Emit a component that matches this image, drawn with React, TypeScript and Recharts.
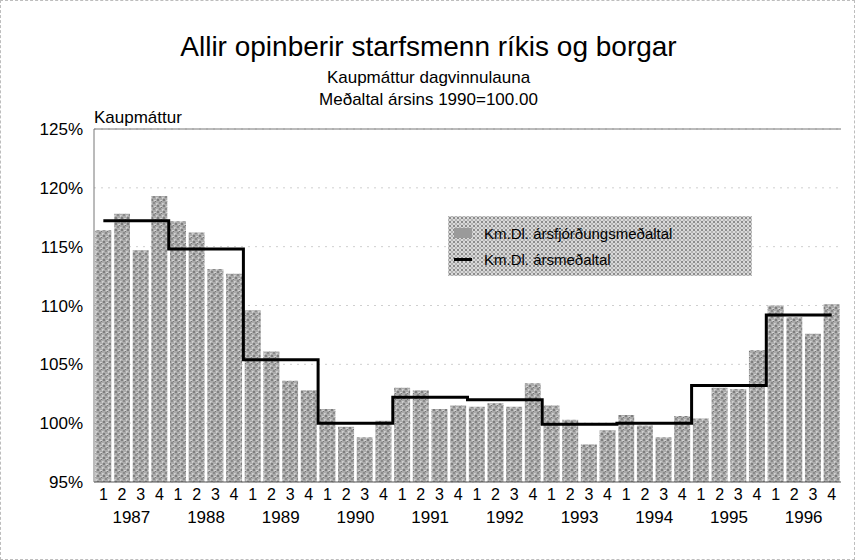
import React from 'react';
import { ComposedChart, Bar, Line, XAxis, YAxis, CartesianGrid, Legend, ReferenceLine } from 'recharts';

const years = ['1987', '1988', '1989', '1990', '1991', '1992', '1993', '1994', '1995', '1996'];
const quarters = ['1', '2', '3', '4'];
const quarterlyValues = [
  116.4, 117.8, 114.7, 119.3,
  117.15, 116.2, 113.1, 112.7,
  109.6, 106.1, 103.6, 102.8,
  101.2, 99.7, 98.8, 100.2,
  103.0, 102.8, 101.2, 101.5,
  101.4, 101.7, 101.4, 103.4,
  101.5, 100.3, 98.2, 99.4,
  100.7, 99.8, 98.8, 100.6,
  100.4, 103.0, 102.9, 106.2,
  110.0, 109.0, 107.6, 110.1,
];
const annualValues = [117.2, 114.8, 105.4, 100.0, 102.2, 102.0, 99.9, 100.0, 103.2, 109.2];
const yTicks = [95, 100, 105, 110, 115, 120, 125];

const data = years.flatMap((year, yi) =>
  quarters.map((q, qi) => ({
    key: `${year}-${q}`,
    q,
    year,
    quarterly: quarterlyValues[yi * 4 + qi],
    annual: annualValues[yi],
  }))
);

const FONT = '"Liberation Sans", Arial, Helvetica, sans-serif';

const stipple =
  'radial-gradient(circle, #8c8c8c 0.9px, transparent 1.2px) 0 0/4px 4px, ' +
  'radial-gradient(circle, #b4b4b4 0.9px, transparent 1.2px) 2px 2px/4px 4px, #d9d9d9';

const LegendBox = () => (
  <div
    style={{
      width: 304,
      height: 60,
      background: stipple,
      fontFamily: FONT,
      fontSize: 15,
      color: '#000',
      boxSizing: 'border-box',
      paddingTop: 7,
      textAlign: 'left',
    }}
  >
    <div style={{ display: 'flex', alignItems: 'center', height: 20 }}>
      <div style={{ width: 18, height: 10, marginLeft: 6, background: '#9a9a9a' }} />
      <span style={{ marginLeft: 12 }}>Km.Dl. ársfjórðungsmeðaltal</span>
    </div>
    <div style={{ display: 'flex', alignItems: 'center', height: 20, marginTop: 6 }}>
      <div style={{ width: 18, height: 3, marginLeft: 6, background: '#000' }} />
      <span style={{ marginLeft: 12 }}>Km.Dl. ársmeðaltal</span>
    </div>
  </div>
);

export default function App() {
  return (
    <div
      style={{
        position: 'absolute',
        left: 0,
        top: 0,
        width: 855,
        height: 560,
        background: '#fff',
        fontFamily: FONT,
        boxSizing: 'border-box',
        border: '1px dashed #bdbdbd',
      }}
    >
      <div style={{ position: 'absolute', left: 0, width: 855, top: 30, textAlign: 'center', fontSize: 28, color: '#000' }}>
        Allir opinberir starfsmenn ríkis og borgar
      </div>
      <div style={{ position: 'absolute', left: 0, width: 855, top: 67, textAlign: 'center', fontSize: 17, color: '#000' }}>
        Kaupmáttur dagvinnulauna
      </div>
      <div style={{ position: 'absolute', left: 0, width: 855, top: 89, textAlign: 'center', fontSize: 17, color: '#000' }}>
        Meðaltal ársins 1990=100.00
      </div>
      <div style={{ position: 'absolute', left: 93, top: 107, fontSize: 17, color: '#000' }}>Kaupmáttur</div>
      <div style={{ position: 'absolute', left: 0, top: 0 }}>
        <ComposedChart
          width={855}
          height={560}
          data={data}
          margin={{ top: 128, right: 15, bottom: 20, left: 13 }}
          barCategoryGap="7%"
        >
          <defs>
            <pattern id="stip" width="6" height="6" patternUnits="userSpaceOnUse">
              <rect width="6" height="6" fill="#ababab" />
              <rect x="0" y="0" width="2" height="2" fill="#7e7e7e" />
              <rect x="3" y="1" width="2" height="1" fill="#d2d2d2" />
              <rect x="2" y="3" width="2" height="2" fill="#8a8a8a" />
              <rect x="5" y="4" width="1" height="2" fill="#cfcfcf" />
              <rect x="0" y="4" width="1" height="1" fill="#c8c8c8" />
              <rect x="4" y="2" width="1" height="1" fill="#777" />
            </pattern>
          </defs>
          <CartesianGrid vertical={false} stroke="#cfcfcf" strokeDasharray="2 5" />
          <XAxis
            dataKey="key"
            interval={0}
            height={29}
            tickLine={false}
            tickSize={0}
            tickMargin={7}
            axisLine={{ stroke: '#555' }}
            tickFormatter={(v: string) => v.split('-')[1]}
            tick={{ fill: '#000', fontSize: 16, fontFamily: FONT }}
          />
          <XAxis
            xAxisId="year"
            dataKey="year"
            allowDuplicatedCategory={false}
            interval={0}
            height={30}
            axisLine={false}
            tickLine={false}
            tickSize={0}
            tickMargin={0}
            tick={{ fill: '#000', fontSize: 17, fontFamily: FONT }}
          />
          <YAxis
            domain={[95, 125]}
            ticks={yTicks}
            width={80}
            interval={0}
            tickLine={false}
            tickSize={0}
            tickMargin={11}
            axisLine={{ stroke: '#777' }}
            tickFormatter={(v: number) => `${v}%`}
            tick={{ fill: '#000', fontSize: 17, fontFamily: FONT }}
          />
          <YAxis
            yAxisId="r"
            orientation="right"
            domain={[95, 125]}
            width={0}
            tick={false}
            tickLine={false}
            axisLine={{ stroke: '#777' }}
          />
          <ReferenceLine y={125} stroke="#777" ifOverflow="visible" />
          <Legend
            layout="horizontal"
            verticalAlign="middle"
            align="center"
            wrapperStyle={{ left: 447, top: 215, width: 304, height: 60 }}
            content={() => <LegendBox />}
          />
          <Bar dataKey="quarterly" fill="url(#stip)" isAnimationActive={false} />
          <Line
            type="step"
            dataKey="annual"
            stroke="#000"
            strokeWidth={3}
            dot={false}
            activeDot={false}
            isAnimationActive={false}
          />
        </ComposedChart>
      </div>
    </div>
  );
}
